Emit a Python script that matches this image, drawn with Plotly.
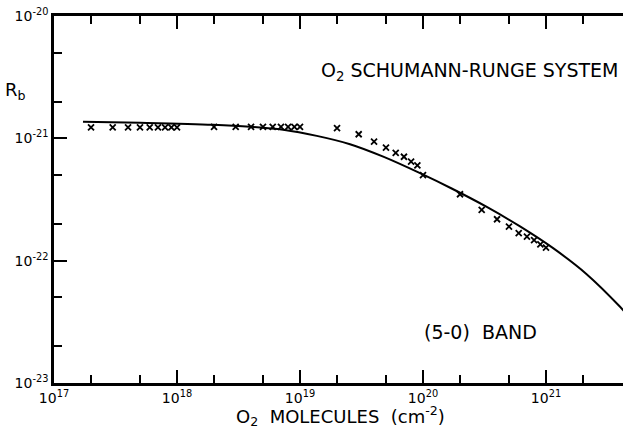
import plotly.graph_objects as go

# Measured data points (x marks)
obs_x = [2e17, 3e17, 4e17, 5e17, 6e17, 7e17, 8e17, 9e17, 1e18,
         2e18, 3e18, 4e18, 5e18, 6e18, 7e18, 8e18, 9e18, 1e19,
         2e19, 3e19, 4e19, 5e19, 6e19, 7e19, 8e19, 9e19, 1e20,
         2e20, 3e20, 4e20, 5e20, 6e20, 7e20, 8e20, 9e20, 1e21]
obs_y = [1.23e-21, 1.23e-21, 1.23e-21, 1.23e-21, 1.23e-21, 1.23e-21, 1.23e-21, 1.23e-21, 1.23e-21,
         1.24e-21, 1.24e-21, 1.24e-21, 1.24e-21, 1.24e-21, 1.24e-21, 1.24e-21, 1.24e-21, 1.24e-21,
         1.21e-21, 1.08e-21, 9.4e-22, 8.4e-22, 7.6e-22, 7.07e-22, 6.45e-22, 6.0e-22, 5.0e-22,
         3.49e-22, 2.6e-22, 2.18e-22, 1.9e-22, 1.68e-22, 1.57e-22, 1.47e-22, 1.36e-22, 1.28e-22]

# Calculated curve
curve_x = [1.72e17, 5.01e17, 1.96e18, 3.92e18, 7.31e18, 1.37e19, 2.55e19, 4.75e19,
           9.46e19, 1.71e20, 3.30e20, 6.15e20, 1.15e21, 2.14e21, 4.0e21, 4.37e21]
curve_y = [1.368e-21, 1.34e-21, 1.291e-21, 1.245e-21, 1.175e-21, 1.047e-21, 8.95e-22, 7.08e-22,
           5.19e-22, 3.89e-22, 2.75e-22, 1.905e-22, 1.259e-22, 7.76e-23, 4.2e-23, 3.8e-23]

x_major = [1e17, 1e18, 1e19, 1e20, 1e21]
x_major_text = ["10<sup>17</sup>", "10<sup>18</sup>", "10<sup>19</sup>", "10<sup>20</sup>", "10<sup>21</sup>"]
x_minor = [2e17, 5e17, 2e18, 5e18, 2e19, 5e19, 2e20, 5e20, 2e21, 5e21]
y_major = [1e-23, 1e-22, 1e-21, 1e-20]
y_major_text = ["10<sup>-23</sup>", "10<sup>-22</sup>", "10<sup>-21</sup>", "10<sup>-20</sup>"]
y_minor = [2e-23, 5e-23, 2e-22, 5e-22, 2e-21, 5e-21]

FONT = "DejaVu Sans"

fig = go.Figure()
fig.add_trace(go.Scatter(x=curve_x, y=curve_y, mode="lines",
                         line=dict(color="black", width=2, shape="spline", smoothing=1.0),
                         showlegend=False, hoverinfo="skip"))
fig.add_trace(go.Scatter(x=obs_x, y=obs_y, mode="markers",
                         marker=dict(symbol="x-thin", size=6, color="black",
                                     line=dict(color="black", width=1.8)),
                         showlegend=False))

fig.update_xaxes(type="log", range=[17, 21.626], showgrid=False, zeroline=False,
                 showline=True, linecolor="black", linewidth=2.5, mirror="ticks",
                 ticks="inside", ticklen=13, tickwidth=1.5, tickcolor="black",
                 tickvals=x_major, ticktext=x_major_text,
                 tickfont=dict(family=FONT, size=14, color="black"),
                 minor=dict(tickvals=x_minor, ticks="inside", ticklen=8, tickwidth=1.5,
                            tickcolor="black", showgrid=False))
fig.update_yaxes(type="log", range=[-23, -20], showgrid=False, zeroline=False,
                 showline=True, linecolor="black", linewidth=2.5, mirror=False,
                 ticks="inside", ticklen=13, tickwidth=1.5, tickcolor="black",
                 tickvals=y_major, ticktext=y_major_text,
                 tickfont=dict(family=FONT, size=14, color="black"),
                 minor=dict(tickvals=y_minor, ticks="inside", ticklen=8, tickwidth=1.5,
                            tickcolor="black", showgrid=False))

annots = [
    dict(text="R<sub>b</sub>", x=-0.0685, y=0.7956, xanchor="center", yanchor="middle", size=18),
    dict(text="O<sub>2</sub>  MOLECULES  (cm<sup>-2</sup>)", x=0.504, y=-0.09,
         xanchor="center", yanchor="middle", size=18),
    dict(text="O<sub>2</sub> SCHUMANN-RUNGE SYSTEM", x=0.4657, y=0.850,
         xanchor="left", yanchor="middle", size=19),
    dict(text="(5-0)  BAND", x=0.6467, y=0.139, xanchor="left", yanchor="middle", size=19),
]
for a in annots:
    fig.add_annotation(text=a["text"], x=a["x"], y=a["y"], xref="paper", yref="paper",
                       xanchor=a["xanchor"], yanchor=a["yanchor"], showarrow=False,
                       font=dict(family=FONT, size=a["size"], color="black"))

fig.update_layout(width=623, height=428, margin=dict(l=54, r=0, t=16, b=45),
                  plot_bgcolor="white", paper_bgcolor="white", showlegend=False)

fig.write_html("out.html")
